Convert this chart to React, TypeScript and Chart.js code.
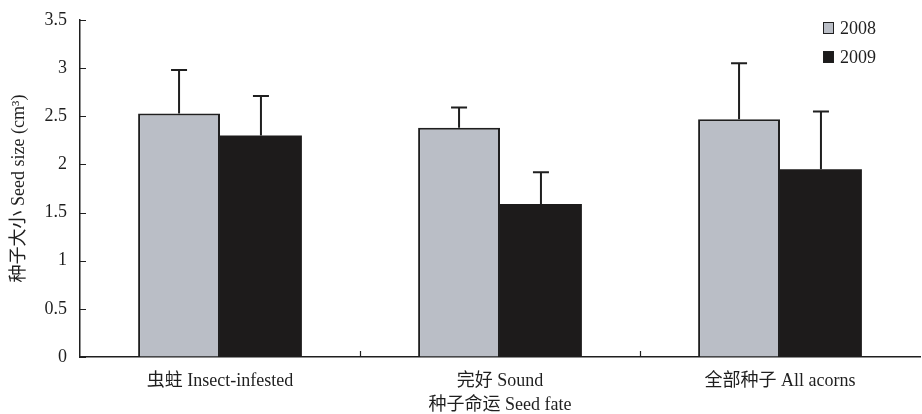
import React, { useEffect, useRef } from "react";
import { Chart, registerables } from "chart.js";

Chart.register(...registerables);

const categories = ["虫蛀 Insect-infested", "完好 Sound", "全部种子 All acorns"];
const seriesNames = ["2008", "2009"];
const values2008 = [2.53, 2.38, 2.47];
const values2009 = [2.3, 1.59, 1.95];
const errors2008 = [0.45, 0.21, 0.58];
const errors2009 = [0.41, 0.33, 0.6];
const yTicks = [0, 0.5, 1, 1.5, 2, 2.5, 3, 3.5];

const FONT = "'Liberation Serif', 'Times New Roman', 'Noto Sans CJK SC', serif";
const INK = "#1f1f1f";
const GRAY = "#babec6";
const BLACK = "#1d1b1b";

const errorBars = {
  id: "errorBars",
  afterDatasetsDraw(chart: any) {
    const { ctx } = chart;
    const yScale = chart.scales.y;
    const errs = [errors2008, errors2009];
    ctx.save();
    ctx.strokeStyle = INK;
    ctx.lineWidth = 2;
    chart.data.datasets.forEach((ds: any, i: number) => {
      const meta = chart.getDatasetMeta(i);
      meta.data.forEach((el: any, j: number) => {
        const top = yScale.getPixelForValue(ds.data[j] + errs[i][j]);
        ctx.beginPath();
        ctx.moveTo(el.x, el.y);
        ctx.lineTo(el.x, top);
        ctx.moveTo(el.x - 8, top);
        ctx.lineTo(el.x + 8, top);
        ctx.stroke();
      });
    });
    ctx.restore();
  },
};

const innerTicks = {
  id: "innerTicks",
  afterDraw(chart: any) {
    const { ctx, chartArea } = chart;
    const x = chart.scales.x;
    const y = chart.scales.y;
    ctx.save();
    ctx.strokeStyle = INK;
    ctx.lineWidth = 1.2;
    ctx.beginPath();
    yTicks.forEach((v) => {
      const py = Math.round(y.getPixelForValue(v)) + 0.5;
      ctx.moveTo(chartArea.left, py);
      ctx.lineTo(chartArea.left + 6, py);
    });
    for (let i = 0; i < categories.length - 1; i++) {
      const px = Math.round((x.getPixelForValue(i) + x.getPixelForValue(i + 1)) / 2) + 0.5;
      ctx.moveTo(px, chartArea.bottom);
      ctx.lineTo(px, chartArea.bottom - 6);
    }
    ctx.stroke();

    // legend in the top-right corner
    const fills = [GRAY, BLACK];
    ctx.font = `18px ${FONT}`;
    ctx.textBaseline = "middle";
    ctx.textAlign = "left";
    seriesNames.forEach((name, i) => {
      const ly = 28 + i * 29;
      ctx.fillStyle = fills[i];
      ctx.fillRect(823, ly - 6, 11, 12);
      ctx.strokeStyle = INK;
      ctx.lineWidth = 1;
      ctx.strokeRect(823.5, ly - 5.5, 10, 11);
      ctx.fillStyle = INK;
      ctx.fillText(name, 840, ly + 1);
    });
    ctx.restore();
  },
};

export default function App() {
  const ref = useRef<HTMLCanvasElement>(null);

  useEffect(() => {
    document.body.style.margin = "0";
    const chart = new Chart(ref.current as HTMLCanvasElement, {
      type: "bar",
      data: {
        labels: categories,
        datasets: [
          {
            label: seriesNames[0],
            data: values2008,
            backgroundColor: GRAY,
            borderColor: INK,
            borderWidth: 2,
            borderSkipped: "bottom",
          },
          {
            label: seriesNames[1],
            data: values2009,
            backgroundColor: BLACK,
            borderColor: INK,
            borderWidth: 0,
          },
        ],
      },
      options: {
        animation: false,
        responsive: false,
        layout: { padding: { top: 20, right: 2, left: 0, bottom: 0 } },
        plugins: {
          legend: { display: false },
          tooltip: { enabled: false },
        },
        datasets: {
          bar: { categoryPercentage: 0.585, barPercentage: 1 },
        },
        scales: {
          x: {
            grid: { display: true, drawOnChartArea: false, drawTicks: false },
            border: { display: true, color: INK, width: 1.5 },
            ticks: {
              color: INK,
              padding: 13,
              font: { family: FONT, size: 18 },
              maxRotation: 0,
            },
            title: {
              display: true,
              text: "种子命运 Seed fate",
              color: INK,
              font: { family: FONT, size: 18, lineHeight: 1 },
              padding: { top: 4, bottom: 0 },
            },
            afterFit(scale: any) {
              scale.height = 57;
              scale.paddingLeft = 0;
              scale.paddingRight = 0;
            },
          },
          y: {
            min: 0,
            max: 3.5,
            grid: { display: true, drawOnChartArea: false, drawTicks: false },
            border: { display: true, color: INK, width: 1.5 },
            ticks: {
              stepSize: 0.5,
              color: INK,
              padding: 13,
              font: { family: FONT, size: 18 },
              callback: (v: any) => String(v),
            },
            title: {
              display: true,
              text: "种子大小 Seed size (cm³)",
              color: INK,
              font: { family: FONT, size: 18 },
              padding: { top: 8, bottom: 4 },
            },
            afterFit(scale: any) {
              scale.width = 80;
              scale.paddingTop = 0;
              scale.paddingBottom = 0;
            },
          },
        },
      },
      plugins: [errorBars, innerTicks],
    });
    return () => chart.destroy();
  }, []);

  return (
    <div style={{ width: 922, height: 414, background: "#fff" }}>
      <canvas ref={ref} width={922} height={414} />
    </div>
  );
}
